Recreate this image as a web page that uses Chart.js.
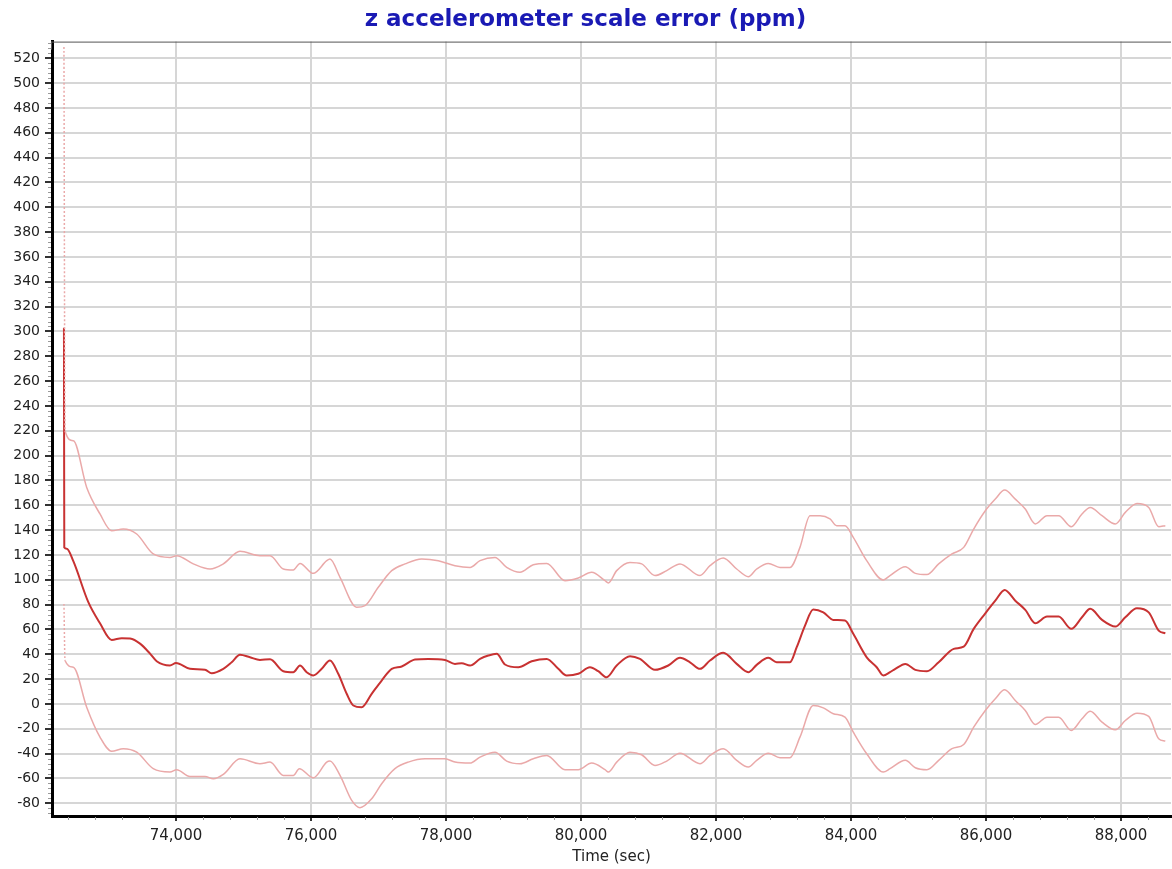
<!DOCTYPE html>
<html>
<head>
<meta charset="utf-8">
<script src="https://cdn.jsdelivr.net/npm/chart.js@4/dist/chart.umd.min.js"></script>
<style>
  html, body { margin: 0; padding: 0; background: #fff; }
  #wrap { width: 1172px; height: 869px; }
</style>
</head>
<body>
<div id="wrap"><canvas id="myChart"></canvas></div>
<script>
// tick labels
const xTicks = [74000, 76000, 78000, 80000, 82000, 84000, 86000, 88000];
const yTicks = [-80, -60, -40, -20, 0, 20, 40, 60, 80, 100, 120, 140, 160, 180, 200,
  220, 240, 260, 280, 300, 320, 340, 360, 380, 400, 420, 440, 460, 480, 500, 520];

// estimate (middle line), time in sec
const midTime = [72340, 72345, 72381, 72479, 72701, 72874, 73047, 73196, 73319, 73467,
  73615, 73714, 73911, 74000, 74207, 74430, 74529, 74701, 74825, 74948,
  75096, 75244, 75393, 75590, 75738, 75837, 75936, 76034, 76159, 76281,
  76404, 76529, 76627, 76751, 76899, 77047, 77196, 77344, 77541, 77738,
  77985, 78133, 78233, 78356, 78504, 78627, 78751, 78874, 79071, 79270,
  79492, 79664, 79788, 79960, 80133, 80256, 80380, 80529, 80726, 80874,
  81096, 81293, 81467, 81615, 81763, 81911, 82108, 82307, 82479, 82603,
  82775, 82899, 83096, 83196, 83319, 83441, 83590, 83738, 83911, 84034,
  84233, 84381, 84479, 84578, 84657, 84805, 84953, 85126, 85299, 85522,
  85670, 85818, 85990, 86138, 86277, 86434, 86582, 86730, 86904, 87077,
  87264, 87422, 87545, 87719, 87916, 88064, 88237, 88411, 88559, 88657];
const midErr = [303, 126, 125, 115, 82, 65, 51.6, 53, 52.7, 48.6,
  40.6, 34.4, 31, 33, 28.3, 27.5, 24.8, 28.3, 33.6, 39.6,
  37.6, 35.5, 36, 26.4, 25.6, 31, 25.6, 23, 28.3, 35,
  24.3, 8.2, -1.2, -2.6, 8.2, 18.9, 28.3, 30.2, 35.8, 36.3,
  35.5, 32.3, 32.8, 31, 36.3, 39, 40.4, 31.8, 29.6, 34.4,
  36.3, 28.3, 22.9, 24.3, 29.6, 26.4, 21.5, 31, 38.5, 36.3,
  27.5, 31, 37.2, 33.6, 28.3, 35, 41.2, 32.3, 25.6, 31.5,
  37.2, 33.6, 33.6, 45.7, 63.1, 76, 73.8, 67.7, 67.2, 56.5,
  37.6, 29.6, 22.9, 25.6, 28.3, 32.3, 27.5, 26.4, 33.6, 44.4,
  46.2, 60.5, 73, 83.2, 91.8, 83.2, 75.8, 65, 70.4, 70.4,
  60.5, 69.8, 76.6, 67.7, 62.3, 69.8, 77.1, 73.8, 59.1, 56.9];

// upper bound
const upTime = [72340, 72356, 72479, 72677, 72874, 73047, 73219, 73418, 73663, 73911,
  74010, 74256, 74504, 74701, 74948, 75244, 75393, 75590, 75738, 75837,
  76034, 76233, 76281, 76430, 76677, 76800, 76997, 77196, 77393, 77640,
  77886, 78133, 78356, 78504, 78726, 78899, 79096, 79293, 79492, 79763,
  79960, 80158, 80356, 80405, 80529, 80726, 80899, 81096, 81270, 81467,
  81763, 81911, 82108, 82307, 82479, 82603, 82775, 82948, 83096, 83244,
  83393, 83541, 83689, 83788, 83911, 84034, 84233, 84479, 84578, 84805,
  84953, 85126, 85299, 85496, 85670, 85818, 85990, 86138, 86277, 86434,
  86582, 86730, 86904, 87077, 87264, 87422, 87545, 87719, 87916, 88064,
  88237, 88411, 88559, 88657];
const upErr = [529, 220, 212, 174.4, 153, 139.5, 140.9, 136.9, 120.8, 118,
  119.4, 112.8, 108.7, 112.8, 122.9, 119.4, 119.4, 108.7, 107.9, 113.2,
  105.2, 115.4, 116.8, 102, 77.9, 79.2, 94, 107.4, 112.8, 116.8,
  115.4, 111.4, 110, 115.4, 118, 110, 106, 112.2, 113.2, 99.3,
  101.5, 106, 99.3, 97.5, 107.4, 114, 112.8, 103.4, 107.4, 112.8,
  103.4, 111.4, 117.6, 108.7, 102.5, 108.7, 113.2, 110, 110, 126.1,
  151.6, 151.6, 149, 143.6, 143.6, 134.2, 115.4, 99.9, 103.4, 110.6,
  105.2, 104.2, 112.8, 120.8, 126.1, 140.9, 155.6, 165, 172.3, 165,
  157, 145, 151.6, 151.6, 142.8, 153, 158.3, 151.6, 145, 154.3,
  161.5, 158.3, 142.8, 143.6];

// lower bound
const lowTime = [72340, 72356, 72479, 72677, 72874, 73047, 73219, 73418, 73663, 73911,
  74010, 74207, 74430, 74553, 74701, 74948, 75244, 75393, 75590, 75738,
  75827, 76034, 76233, 76281, 76430, 76603, 76726, 76899, 77047, 77244,
  77441, 77689, 77985, 78133, 78356, 78504, 78726, 78899, 79096, 79293,
  79492, 79763, 79960, 80158, 80356, 80405, 80529, 80726, 80899, 81096,
  81270, 81467, 81763, 81911, 82108, 82307, 82479, 82603, 82775, 82948,
  83096, 83244, 83441, 83590, 83738, 83911, 84034, 84233, 84479, 84578,
  84805, 84953, 85126, 85299, 85496, 85670, 85818, 85990, 86138, 86277,
  86434, 86582, 86730, 86904, 87077, 87264, 87422, 87545, 87719, 87916,
  88064, 88237, 88411, 88559, 88657];
const lowErr = [80.6, 35, 29.6, -2.6, -26.7, -38, -36, -38.8, -52.1, -54.8,
  -52.9, -58.3, -58.3, -60.2, -56.7, -44.1, -48.1, -46.8, -57.5, -57.5,
  -52.1, -59.4, -46.8, -46, -57.5, -77.6, -83.5, -76.3, -64.2, -52.1,
  -46.8, -44.1, -44.1, -46.8, -47.6, -42.8, -38.8, -46, -48.1, -44.1,
  -41.4, -52.9, -52.9, -47.6, -52.9, -54.8, -46.8, -38.8, -40.9, -49.5,
  -46, -39.6, -48.1, -41.4, -36, -45.4, -50.8, -45.4, -39.6, -43.3,
  -43.3, -26.7, -1.2, -3.1, -7.9, -10.6, -22.7, -40.1, -54.8, -52.1,
  -45.4, -51.3, -52.9, -45.4, -36, -32.6, -18.7, -5.2, 4.2, 11.4,
  2.8, -5.2, -16.5, -10.6, -10.6, -21.3, -11.9, -5.8, -14.6, -20.8,
  -13.3, -7.4, -10, -28, -29.9];

function pts(t, v) {
  return t.map((x, i) => ({ x: x, y: v[i] }));
}

const font = 'DejaVu Sans, Verdana, sans-serif';

// thin frame line on top plus the small minor ticks on both axes
const framePlugin = {
  id: 'frame',
  afterDraw(chart) {
    const ctx = chart.ctx;
    const a = chart.chartArea;
    const xs = chart.scales.x, ys = chart.scales.y;
    ctx.save();
    ctx.strokeStyle = '#555';
    ctx.lineWidth = 1;
    ctx.beginPath();
    ctx.moveTo(a.left - 1, a.top + 0.5);
    ctx.lineTo(a.right, a.top + 0.5);
    ctx.moveTo(a.left - 0.5, a.top);
    ctx.lineTo(a.left - 0.5, a.top + 8);
    ctx.stroke();

    ctx.strokeStyle = '#9a9a9a';
    ctx.beginPath();
    for (let v = -88; v <= 532; v += 4) {
      if (v % 20 === 0) continue;
      const py = Math.round(ys.getPixelForValue(v)) + 0.5;
      ctx.moveTo(a.left - 4, py);
      ctx.lineTo(a.left - 1, py);
    }
    for (let v = 72400; v <= 88600; v += 400) {
      if (v % 2000 === 0) continue;
      const px = Math.round(xs.getPixelForValue(v)) + 0.5;
      ctx.moveTo(px, a.bottom + 1);
      ctx.lineTo(px, a.bottom + 4);
    }
    ctx.stroke();
    ctx.restore();
  }
};

const dashFirst = {
  borderDash: c => c.p0DataIndex === 0 ? [2, 2] : undefined
};

new Chart(document.getElementById('myChart'), {
  type: 'line',
  data: {
    datasets: [
      {
        label: 'upper',
        data: pts(upTime, upErr),
        borderColor: '#eaa9a9',
        borderWidth: 1.5,
        segment: dashFirst
      },
      {
        label: 'lower',
        data: pts(lowTime, lowErr),
        borderColor: '#eaa9a9',
        borderWidth: 1.5,
        segment: dashFirst
      },
      {
        label: 'estimate',
        data: pts(midTime, midErr),
        borderColor: '#c83232',
        borderWidth: 2
      }
    ]
  },
  options: {
    responsive: true,
    maintainAspectRatio: false,
    animation: false,
    parsing: false,
    layout: { padding: { left: 0, right: 1, top: 0, bottom: 0 } },
    elements: {
      point: { radius: 0 },
      line: { cubicInterpolationMode: 'monotone' }
    },
    scales: {
      x: {
        type: 'linear',
        min: 72163,
        max: 88741,
        afterBuildTicks: s => { s.ticks = xTicks.map(v => ({ value: v })); },
        afterFit: s => { s.height = 53; },
        grid: { color: '#d6d6d6', lineWidth: 2, tickColor: '#333', tickLength: 5 },
        border: { color: '#000', width: 3 },
        ticks: {
          color: '#222',
          font: { family: font, size: 15 },
          padding: 6,
          maxRotation: 0,
          callback: v => v.toLocaleString('en-US')
        },
        title: {
          display: true,
          text: 'Time (sec)',
          color: '#222',
          font: { family: font, size: 15 },
          padding: { top: 0, bottom: 3 }
        }
      },
      y: {
        type: 'linear',
        min: -90.2,
        max: 533.4,
        afterBuildTicks: s => { s.ticks = yTicks.map(v => ({ value: v })); },
        afterFit: s => { s.width = 52; },
        grid: { color: '#d6d6d6', lineWidth: 2, tickColor: '#333', tickLength: 7 },
        border: { color: '#000', width: 3 },
        ticks: {
          color: '#222',
          font: { family: font, size: 14 },
          padding: 5
        }
      }
    },
    plugins: {
      legend: { display: false },
      tooltip: { enabled: false },
      title: {
        display: true,
        text: 'z accelerometer scale error (ppm)',
        color: '#1a1ab4',
        font: { family: font, size: 23, weight: 'bold' },
        padding: { top: 6, bottom: 8 }
      }
    }
  },
  plugins: [framePlugin]
});
</script>
</body>
</html>
